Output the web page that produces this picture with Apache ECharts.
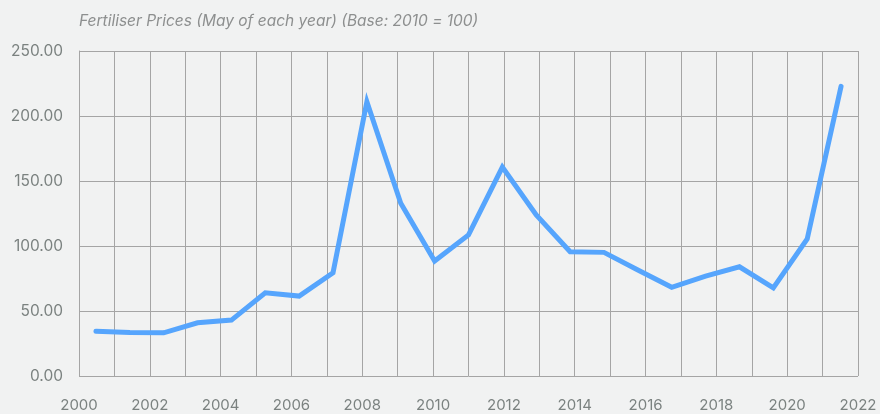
<!DOCTYPE html>
<html>
<head>
<meta charset="utf-8">
<script src="https://cdn.jsdelivr.net/npm/echarts@6/dist/echarts.min.js"></script>
<style>
  html, body { margin: 0; padding: 0; background: #f1f2f2; }
  #chart { width: 880px; height: 414px; }
</style>
</head>
<body>
<div id="chart"></div>
<script>
// fertiliser price index, May of each year, 2010 = 100
var years = ['2000', '2001', '2002', '2003', '2004', '2005', '2006', '2007', '2008', '2009', '2010', '2011',
    '2012', '2013', '2014', '2015', '2016', '2017', '2018', '2019', '2020', '2021', '2022'];
var prices = [34.5, 33.4, 33.2, 40.9, 43, 64, 61.5, 79.4, 211, 132.9, 88.5, 108.5,
    160.7, 123.9, 95.6, 95.1, 81.5, 68.2, 76.9, 84, 67.8, 105.4, 222.8];
var yearTicks = [2000, 2002, 2004, 2006, 2008, 2010, 2012, 2014, 2016, 2018, 2020, 2022];
var yTicks = [0, 50, 100, 150, 200, 250];

var gridColor = '#a5a5a5';
var labelColor = '#7b8280';

var chart = echarts.init(document.getElementById('chart'));
var option = {
    backgroundColor: '#f1f2f2',
    title: {
        text: 'Fertiliser Prices (May of each year) (Base: 2010 = 100)',
        left: 74,
        top: 8,
        textStyle: {
            fontFamily: 'Inter',
            fontStyle: 'italic',
            fontWeight: 'normal',
            fontSize: 15.5,
            color: '#8d8f8f'
        }
    },
    grid: {left: 79, right: 22, top: 51, bottom: 38},
    xAxis: [{
        type: 'value',
        min: yearTicks[0],
        max: yearTicks[yearTicks.length - 1],
        interval: 1,
        axisLine: {show: false},
        axisTick: {show: false},
        splitLine: {show: true, lineStyle: {color: gridColor, width: 1}},
        axisLabel: {
            margin: 22,
            fontFamily: 'Inter',
            fontSize: 15,
            color: labelColor,
            formatter: function (v) {
                return yearTicks.indexOf(v) >= 0 ? String(v) : '';
            }
        }
    }, {
        type: 'category',
        data: years,
        boundaryGap: true,
        show: false
    }],
    yAxis: {
        type: 'value',
        min: yTicks[0],
        max: yTicks[yTicks.length - 1],
        interval: 50,
        axisLine: {show: true, lineStyle: {color: gridColor}},
        axisTick: {show: false},
        splitLine: {show: true, lineStyle: {color: gridColor, width: 1}},
        axisLabel: {
            margin: 16,
            fontFamily: 'Inter',
            fontSize: 15.5,
            color: labelColor,
            formatter: function (v) {
                return v.toFixed(2);
            }
        }
    },
    series: [{
        type: 'line',
        xAxisIndex: 1,
        data: prices,
        symbol: 'none',
        lineStyle: {color: '#56a5fd', width: 5, cap: 'round', join: 'miter'},
        animation: false
    }]
};
chart.setOption(option);
</script>
</body>
</html>
